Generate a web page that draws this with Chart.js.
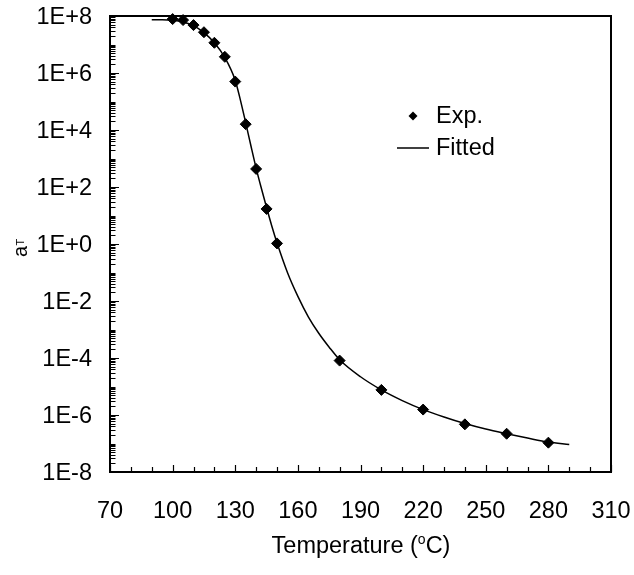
<!DOCTYPE html>
<html>
<head>
<meta charset="utf-8">
<script src="https://cdn.jsdelivr.net/npm/chart.js@4.4.0/dist/chart.umd.min.js"></script>
<style>
  html, body { margin: 0; padding: 0; background: #fff; }
</style>
</head>
<body>
<canvas id="chart" width="634" height="575"></canvas>
<script>
// measured points (shift factor aT vs temperature)
const expTemp = [100, 105, 110, 115, 120, 125, 130, 135, 140, 145, 150, 180, 200, 220, 240, 260, 280];
const expShift = [7.8e7, 7.2e7, 4.8e7, 2.7e7, 1.15e7, 3.7e6, 5.0e5, 1.6e4, 430, 17, 1.05, 8.1e-5, 7.6e-6, 1.55e-6, 4.7e-7, 2.2e-7, 1.07e-7];

// fitted curve
const fitTemp = [90, 95, 100, 105, 110, 115, 120, 125, 130, 132.5, 135, 137.5, 140, 142.5, 145, 147.5, 150, 155, 160, 165, 170, 175, 180, 190, 200, 210, 220, 230, 240, 250, 260, 270, 280, 290];
const fitShift = [7.4e7, 7.4e7, 7.1e7, 6.2e7, 4.6e7, 2.6e7, 1.15e7, 3.5e6, 5.5e5, 1.1e5, 1.8e4, 2.8e3, 460, 90, 19, 4.3, 1.1, 1.0e-1, 1.45e-2, 2.8e-3, 7.4e-4, 2.4e-4, 8.7e-5, 2.2e-5, 7.6e-6, 3.2e-6, 1.55e-6, 8.5e-7, 5.0e-7, 3.2e-7, 2.2e-7, 1.55e-7, 1.12e-7, 9.3e-8];

const xTickLabels = [70, 100, 130, 160, 190, 220, 250, 280, 310];
const xMinorStep = 10;
const yLabelExponents = [8, 6, 4, 2, 0, -2, -4, -6, -8];

const FONT = "'Liberation Sans', Arial, sans-serif";
const FS = 23.5;

// every k*10^n between 1e-8 and 1e8
const yTicks = [];
for (let e = -8; e < 8; e++) {
  for (let k = 1; k < 10; k++) yTicks.push(k * Math.pow(10, e));
}
yTicks.push(1e8);

const fmtExp = (v) => {
  const e = Math.round(Math.log10(v));
  if (Math.abs(v - Math.pow(10, e)) > 1e-12 * v) return '';
  if (!yLabelExponents.includes(e)) return '';
  return '1E' + (e >= 0 ? '+' : '-') + Math.abs(e);
};

const noPad = (scale) => {
  scale.paddingTop = 0;
  scale.paddingBottom = 0;
  scale.paddingLeft = 0;
  scale.paddingRight = 0;
};

const framePlugin = {
  id: 'frame',
  afterDraw(chart) {
    const ctx = chart.ctx;
    const a = chart.chartArea;
    const xs = chart.scales.x;
    const ys = chart.scales.y;
    ctx.save();
    ctx.strokeStyle = '#000';

    // inward tick marks
    ctx.lineWidth = 1.2;
    ctx.beginPath();
    for (let v = xTickLabels[0]; v <= xTickLabels[xTickLabels.length - 1]; v += xMinorStep) {
      const px = Math.round(xs.getPixelForValue(v)) + 0.5;
      const len = xTickLabels.includes(v) ? 7 : 5;
      ctx.moveTo(px, a.bottom);
      ctx.lineTo(px, a.bottom - len);
    }
    yTicks.forEach((v) => {
      const py = Math.round(ys.getPixelForValue(v)) + 0.5;
      const len = fmtExp(v) ? 9 : 5.5;
      ctx.moveTo(a.left, py);
      ctx.lineTo(a.left + len, py);
    });
    ctx.stroke();

    // box around the plot
    ctx.lineWidth = 2;
    ctx.strokeRect(a.left, a.top, a.right - a.left, a.bottom - a.top);

    // legend
    ctx.fillStyle = '#000';
    ctx.font = FS + 'px ' + FONT;
    ctx.textBaseline = 'middle';
    ctx.textAlign = 'left';
    const d = 4.5;
    ctx.beginPath();
    ctx.moveTo(413 - d, 116);
    ctx.lineTo(413, 116 - d);
    ctx.lineTo(413 + d, 116);
    ctx.lineTo(413, 116 + d);
    ctx.closePath();
    ctx.fill();
    ctx.fillText('Exp.', 436, 117);
    ctx.lineWidth = 1.5;
    ctx.beginPath();
    ctx.moveTo(397, 148);
    ctx.lineTo(429, 148);
    ctx.stroke();
    ctx.fillText('Fitted', 436, 149);

    // x title with superscript o
    ctx.textBaseline = 'alphabetic';
    const p1 = 'Temperature (', p2 = 'o', p3 = 'C)';
    ctx.font = FS + 'px ' + FONT;
    const w1 = ctx.measureText(p1).width;
    const w3 = ctx.measureText(p3).width;
    ctx.font = '14px ' + FONT;
    const w2 = ctx.measureText(p2).width;
    const tx = 361 - (w1 + w2 + w3) / 2;
    const base = 553;
    ctx.font = FS + 'px ' + FONT;
    ctx.fillText(p1, tx, base);
    ctx.font = '14px ' + FONT;
    ctx.fillText(p2, tx + w1, base - 9);
    ctx.font = FS + 'px ' + FONT;
    ctx.fillText(p3, tx + w1 + w2, base);

    // y title a with subscript T
    ctx.translate(27, 257);
    ctx.rotate(-Math.PI / 2);
    ctx.font = '20px ' + FONT;
    ctx.fillText('a', 0, 0);
    const wa = ctx.measureText('a').width;
    ctx.font = '11px ' + FONT;
    ctx.fillText('T', wa + 0.5, -3);
    ctx.restore();
  }
};

new Chart(document.getElementById('chart'), {
  type: 'scatter',
  data: {
    datasets: [
      {
        label: 'Fitted',
        data: fitTemp.map((t, i) => ({ x: t, y: fitShift[i] })),
        showLine: true,
        borderColor: '#000',
        borderWidth: 1.5,
        pointRadius: 0,
        cubicInterpolationMode: 'monotone',
        clip: false
      },
      {
        label: 'Exp.',
        data: expTemp.map((t, i) => ({ x: t, y: expShift[i] })),
        showLine: false,
        pointStyle: 'rectRot',
        pointRadius: 5.5,
        backgroundColor: '#000',
        borderColor: '#000',
        borderWidth: 1,
        clip: false
      }
    ]
  },
  options: {
    responsive: false,
    animation: false,
    layout: { padding: { top: 16, right: 23, left: 0, bottom: 0 } },
    plugins: {
      legend: { display: false },
      tooltip: { enabled: false }
    },
    scales: {
      x: {
        type: 'linear',
        min: 70,
        max: 310,
        afterBuildTicks: (scale) => { scale.ticks = xTickLabels.map((v) => ({ value: v })); },
        afterFit: (scale) => { scale.height = 103; noPad(scale); },
        grid: { display: false, drawTicks: false },
        border: { display: false },
        ticks: {
          color: '#000',
          font: { size: FS, family: FONT },
          padding: 25,
          maxRotation: 0,
          autoSkip: false
        }
      },
      y: {
        type: 'logarithmic',
        min: 1e-8,
        max: 1e8,
        afterBuildTicks: (scale) => { scale.ticks = yTicks.map((v) => ({ value: v })); },
        afterFit: (scale) => { scale.width = 110; noPad(scale); },
        grid: { display: false, drawTicks: false },
        border: { display: false },
        ticks: {
          color: '#000',
          font: { size: FS, family: FONT },
          padding: 18,
          autoSkip: false,
          labelOffset: 2,
          callback: (v) => fmtExp(v)
        }
      }
    }
  },
  plugins: [framePlugin]
});
</script>
</body>
</html>
